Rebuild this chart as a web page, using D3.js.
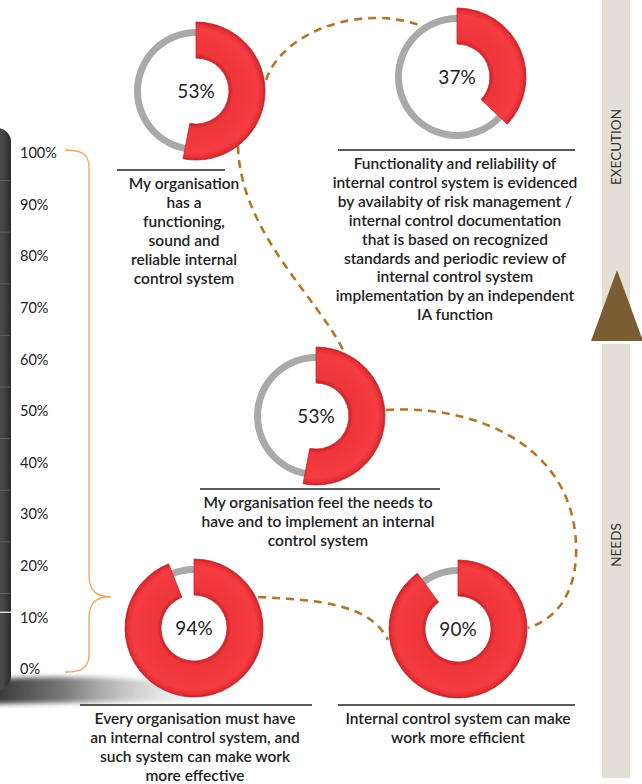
<!DOCTYPE html>
<html>
<head>
<style type="text/css">
  body{
    margin: 0;
    background: white;
  }
  .cap{
    font-family: 'Lato', 'Open Sans', sans-serif;
    font-size: 15.5px;
    font-weight: 600;
    fill: #222;
  }
  .pct{
    font-family: 'Lato', sans-serif;
    font-size: 19px;
    fill: #222;
  }
  .tick text{
    font-family: 'Lato', sans-serif;
    font-size: 14.5px;
    fill: #222;
  }
</style>
</head>
<body>
<script src="https://cdn.jsdelivr.net/npm/d3@7/dist/d3.min.js"></script>
<script>

// values
var values = [53, 37, 53, 94, 90];
var captions = [
  ["My organisation", "has a", "functioning,", "sound and", "reliable internal", "control system"],
  ["Functionality and reliability of", "internal control system is evidenced", "by availabity of risk management /",
   "internal control documentation", "that is based on recognized", "standards and periodic review of",
   "internal control system", "implementation by an independent", "IA function"],
  ["My organisation feel the needs to", "have and to implement an internal", "control system"],
  ["Every organisation must have", "an internal control system, and", "such system can make work", "more effective"],
  ["Internal control system can make", "work more efficient"]
];
var tickValues = [0, 10, 20, 30, 40, 50, 60, 70, 80, 90, 100];
var phases = ["EXECUTION", "NEEDS"];
var braceTip = 14;

// layout (where each donut sits)
var slots = [
  {x: 196, y: 91,  lx1: 117, lx2: 225, ly: 170, tx: 184},
  {x: 457, y: 77,  lx1: 338, lx2: 575, ly: 150, tx: 455},
  {x: 316, y: 416, lx1: 200, lx2: 440, ly: 489, tx: 318},
  {x: 194, y: 628, lx1: 80,  lx2: 312, ly: 705, tx: 195},
  {x: 458, y: 629, lx1: 338, lx2: 575, ly: 705, tx: 458}
];

var width = 642, height = 784;
var svg = d3.select("body").append("svg")
  .attr("width", width)
  .attr("height", height);

var defs = svg.append("defs");

// left dark panel
var pg = defs.append("linearGradient").attr("id", "panelGrad");
pg.append("stop").attr("offset", "0%").attr("stop-color", "#1c1c1c");
pg.append("stop").attr("offset", "75%").attr("stop-color", "#4a4a4a");
pg.append("stop").attr("offset", "100%").attr("stop-color", "#2a2a2a");

var sg = defs.append("linearGradient").attr("id", "shadowGrad");
sg.append("stop").attr("offset", "0%").attr("stop-color", "#333");
sg.append("stop").attr("offset", "30%").attr("stop-color", "#7a7a7a");
sg.append("stop").attr("offset", "100%").attr("stop-color", "#ffffff").attr("stop-opacity", 0);

var blur = defs.append("filter").attr("id", "soft").attr("x", "-10%").attr("y", "-50%").attr("width", "120%").attr("height", "200%");
blur.append("feGaussianBlur").attr("stdDeviation", 2.5);

var y = d3.scaleLinear().domain([0, 100]).range([669, 153]);

// floor shadow
svg.append("path")
  .attr("d", "M-10,679 Q110,672 240,689 L240,700 L-10,704 Z")
  .attr("fill", "url(#shadowGrad)")
  .attr("filter", "url(#soft)");

svg.append("rect")
  .attr("x", -25).attr("y", 128)
  .attr("width", 36).attr("height", 562)
  .attr("rx", 14)
  .attr("fill", "url(#panelGrad)");

svg.append("g").selectAll("line")
  .data(tickValues.slice(1, -1))
  .enter().append("line")
  .attr("x1", 0).attr("x2", 10)
  .attr("y1", function(d) { return y(d) - 24; })
  .attr("y2", function(d) { return y(d) - 24; })
  .attr("stroke", "#777").attr("stroke-width", 0.6);

svg.append("line")
  .attr("x1", 0).attr("x2", 13)
  .attr("y1", y(11)).attr("y2", y(11))
  .attr("stroke", "white").attr("stroke-width", 1.2);

// axis
var axis = d3.axisRight(y)
  .tickValues(tickValues)
  .tickSize(0)
  .tickPadding(0)
  .tickFormat(function(d) { return d + "%"; });

svg.append("g")
  .attr("transform", "translate(20,0)")
  .call(axis)
  .call(function(g) { g.select(".domain").remove(); });

// brace
var bt = y(100) - 3, bb = y(0) + 3, bm = y(braceTip), bx = 89;
svg.append("path")
  .attr("d",
    "M65," + bt + " C82," + bt + " " + bx + "," + (bt + 4) + " " + bx + "," + (bt + 18) +
    " L" + bx + "," + (bm - 22) +
    " C" + bx + "," + (bm - 6) + " 96," + bm + " 111," + bm +
    " C96," + bm + " " + bx + "," + (bm + 6) + " " + bx + "," + (bm + 22) +
    " L" + bx + "," + (bb - 18) +
    " C" + bx + "," + (bb - 4) + " 82," + bb + " 65," + bb)
  .attr("fill", "none")
  .attr("stroke", "#f3a25b")
  .attr("stroke-width", 1.3);

// right side bar
svg.append("rect").attr("x", 602).attr("y", 0).attr("width", 28).attr("height", 338).attr("fill", "#e4dfd6");
svg.append("rect").attr("x", 602).attr("y", 344).attr("width", 28).attr("height", 434).attr("fill", "#e4dfd6");
svg.append("path").attr("d", "M617,270 L643,341 L591,341 Z").attr("fill", "#7b5d34");

svg.selectAll(".phase")
  .data(phases)
  .enter().append("text")
  .attr("class", "phase")
  .attr("transform", function(d, i) { return "translate(621," + (i == 0 ? 147 : 545) + ") rotate(-90)"; })
  .attr("text-anchor", "middle")
  .attr("font-family", "Lato, sans-serif")
  .attr("font-size", "13.5px")
  .attr("fill", "#333")
  .text(function(d) { return d; });

// dashed links
var links = [
  "M266,80 C282,32 360,4 419,25",
  "M238,146 C240,232 318,298 343,350",
  "M386,410 C478,404 580,448 576,556 C574,600 552,620 528,628",
  "M258,597 C320,600 370,604 388,640"
];
svg.append("g").selectAll("path")
  .data(links)
  .enter().append("path")
  .attr("d", function(d) { return d; })
  .attr("fill", "none")
  .attr("stroke", "#b0772a")
  .attr("stroke-width", 2.6)
  .attr("stroke-dasharray", "8,6");

// donuts
var rOuter = 69, rInner = 33;
var tau = 2 * Math.PI;
var arc = d3.arc();

var rg = defs.append("radialGradient").attr("id", "redGrad")
  .attr("gradientUnits", "userSpaceOnUse")
  .attr("cx", 0).attr("cy", 0).attr("r", rOuter);
rg.append("stop").attr("offset", rInner / rOuter).attr("stop-color", "#c9252b");
rg.append("stop").attr("offset", 0.54).attr("stop-color", "#ee353a");
rg.append("stop").attr("offset", 0.9).attr("stop-color", "#f43c41");
rg.append("stop").attr("offset", 0.97).attr("stop-color", "#e22e33");
rg.append("stop").attr("offset", 1).attr("stop-color", "#bb2127");

var donut = svg.selectAll(".donut")
  .data(values)
  .enter().append("g")
  .attr("class", "donut")
  .attr("transform", function(d, i) { return "translate(" + slots[i].x + "," + slots[i].y + ")"; });

donut.append("path")
  .attr("d", arc({innerRadius: 55, outerRadius: 62, startAngle: 0, endAngle: tau}))
  .attr("fill", "#a9a9a9");

donut.append("path")
  .attr("d", function(d) {
    return arc({innerRadius: rInner, outerRadius: rOuter, startAngle: 0, endAngle: d / 100 * tau});
  })
  .attr("fill", "url(#redGrad)")
  .attr("stroke", "#c3262b")
  .attr("stroke-width", 0.8);

donut.append("text")
  .attr("class", "pct")
  .attr("text-anchor", "middle")
  .attr("dy", "0.35em")
  .text(function(d) { return d + "%"; });

// captions
var cap = svg.selectAll(".caption")
  .data(captions)
  .enter().append("g")
  .attr("class", "caption");

cap.append("line")
  .attr("x1", function(d, i) { return slots[i].lx1; })
  .attr("x2", function(d, i) { return slots[i].lx2; })
  .attr("y1", function(d, i) { return slots[i].ly; })
  .attr("y2", function(d, i) { return slots[i].ly; })
  .attr("stroke", "#222")
  .attr("stroke-width", 1.3);

cap.each(function(lines, i) {
  d3.select(this).selectAll("text")
    .data(lines)
    .enter().append("text")
    .attr("class", "cap")
    .attr("text-anchor", "middle")
    .attr("x", slots[i].tx)
    .attr("y", function(d, j) { return slots[i].ly + 19 + j * 18.9; })
    .text(function(d) { return d; });
});

</script>
</body>
</html>
